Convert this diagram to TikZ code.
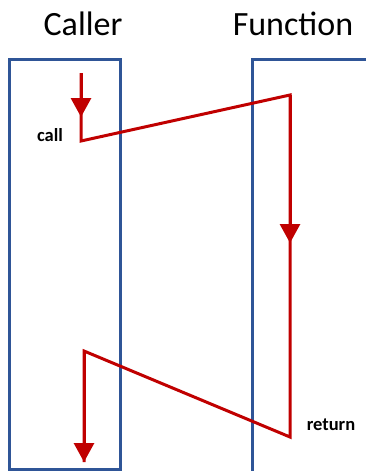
\documentclass[tikz,border=0pt]{standalone}
\usepackage{fontspec}
\setmainfont{Carlito}
\usetikzlibrary{arrows.meta}
\definecolor{boxblue}{HTML}{2F5597}
\definecolor{flowred}{HTML}{C00000}
\begin{document}
\begin{tikzpicture}[x=1pt,y=-1pt,
  lane/.style={draw=boxblue,line width=3pt},
  flow/.style={draw=flowred,line width=3pt,line join=miter},
  tipped/.style={flow,-{Triangle[width=20pt,length=19pt]}},
  title/.style={font=\fontsize{34}{38}\selectfont,anchor=base},
  lbl/.style={font=\bfseries\fontsize{18.5}{22}\selectfont}]
\useasboundingbox (0,0) rectangle (366,471);
% lanes
\draw[lane] (9,59) rectangle (120,469);
\draw[lane] (368,59) -- (252,59) -- (252,473);
% titles
\node[title] (tc) at (83,35) {Caller};
\node[title] (tf) at (293,35) {Function};
% flow points
\coordinate (s) at (81,73);
\coordinate (a1) at (81,117);
\coordinate (c1) at (81,141);
\coordinate (f1) at (290,95);
\coordinate (a2) at (290,243);
\coordinate (f2) at (290,437);
\coordinate (r1) at (84,351);
\coordinate (e) at (84,462);
\draw[flow] (s) -- (c1) -- (f1) -- (f2) -- (r1) -- (e);
\draw[tipped] (s) -- (a1);
\draw[tipped] (f1) -- (a2);
\draw[tipped] (r1) -- (e);
% labels
\node[lbl] (call) at (50,135) {call};
\node[lbl] (ret) at (331,425) {return};
\end{tikzpicture}
\end{document}
